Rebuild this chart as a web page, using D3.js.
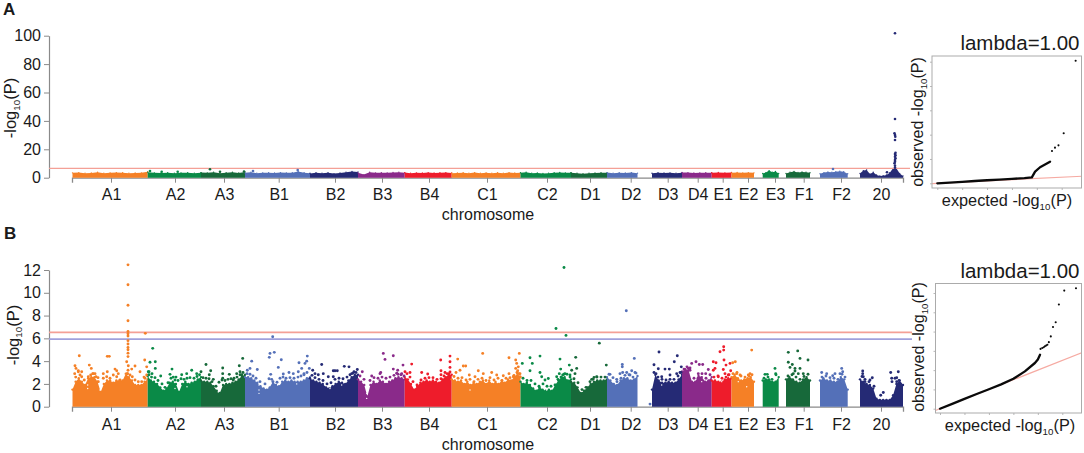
<!DOCTYPE html>
<html>
<head>
<meta charset="utf-8">
<script src="https://cdn.jsdelivr.net/npm/d3@7"></script>
<style>
  html, body { margin: 0; padding: 0; background: #fff; }
  text { font-family: "Liberation Sans", Arial, sans-serif; fill: #1a1a1a; }
</style>
</head>
<body>
<svg id="chart" width="1084" height="453"></svg>
<script>
// chromosome extents along the genome axis (arbitrary position units)
const chromNames = ['A1','A2','A3','B1','B2','B3','B4','C1','C2','D1','D2','D3','D4','E1','E2','E3','F1','F2','20'];
const chromStart = [0.5,75.7,129,173,238,286,332.7,379.7,448.5,499,535,580,610,639.7,659.5,690.7,714,748,788];
const chromEnd = [75.7,129,173,238,286,332.7,379.7,448.5,499,535,565.5,610,639.7,659.5,682,706.7,738,775.7,831];
const chromTicks = [39,103,152,206.7,263,310,357,415,475,518,558.7,595.7,625.7,650.7,676,703,731.7,769,809];
const chromColors = ['#f58026','#0a8a47','#17693a','#5470b8','#252a75','#8a2a8a','#ee1c2b',
  '#f58026','#0a8a47','#17693a','#5470b8','#252a75','#8a2a8a','#ee1c2b','#f58026','#0a8a47','#17693a','#5470b8','#252a75'];

// panel A: top of the dense band per chromosome, evenly spaced along it
const skylineA = [
  [3.4,3.6,3.2,3.3,3.8,3.1,3.4,3.6,3.5,3.2,3.3,3.4,4.2],
  [3.9,3.4,3.3,3.5,3.1,3.4,3.5,3.2,3.5],
  [3.6,3.4,3.9,3.2,3.5,3.8,3.3,4.0],
  [3.4,3.9,3.2,3.4,3.5,3.3,3.6,3.4,3.5,4.4,3.5,3.2],
  [3.0,3.5,3.1,3.5,2.9,3.3,3.9,4.4,4.0],
  [3.4,2.2,3.8,3.4,3.5,3.4,3.7,3.9,3.4],
  [3.6,3.2,3.4,3.3,3.6,3.3,3.5,3.6,3.3],
  [3.1,3.3,3.5,3.2,3.6,3.2,3.4,3.2,3.5,3.2,3.6,3.3,3.4],
  [3.5,3.8,3.2,3.3,3.0,3.2,3.5,3.7,3.4,3.5],
  [3.5,3.1,2.8,3.2,3.3,3.5,3.4],
  [3.6,3.2,3.5,3.3,3.6,3.2],
  [3.1,3.5,3.3,3.4,3.2,3.5],
  [3.7,3.6,3.3,3.4,3.5,3.4],
  [3.5,3.7,3.4,3.7],
  [3.4,3.7,3.4,3.6,3.4],
  [3.0,3.6,5.0,3.9,4.4,3.0],
  [3.0,3.9,4.4,3.7,4.0,3.9,3.5],
  [2.8,3.6,4.0,3.9,4.2,4.6,4.2,2.8],
  [3.0,5.0,5.4,2.6,3.8,1.9,1.2,1.4,1.9,3.5,6.6,6.6,3.0,1.2]
];
const dotsA = [
  [78,4.7],[89.7,4.2],[105.7,4.2],[138,5.9],[148,4.2],[172,4.4],[181,4.7],[225.7,5.4],[761,6.1],[815,3.8],
  [823,101.7],[823,41.3],[822.5,31.3],[823,30],[823.3,28.9],[823,26.5],[823.5,17.6],[823,16.7],[823.5,15.8],
  [823,14.8],[823.5,13.7],[823,12.5],[823,11.3],[822.5,10.2],[823,8.5],[823,7]
];

// panel B
const skylineB = [
  [1.5,2.2,2.5,2.2,1.9,2.5,2.6,2.6,2.2,1.3,2.0,2.3,2.3,2.1,2.3,2.3,2.3,2.9,2.6,2.3,1.9,1.9,1.9,2.2,2.4],
  [2.7,2.3,2.2,2.0,1.7,1.4,1.6,2.1,2.2,2.0,1.3,2.0,2.2,2.0,2.1,2.2,2.4,2.6],
  [2.3,2.2,2.2,2.1,1.8,1.4,1.2,1.9,2.0,2.0,2.1,2.2,2.4,2.7,2.8],
  [2.6,2.6,2.5,2.3,2.1,1.8,1.6,1.5,1.7,2.2,1.9,1.8,2.2,2.3,2.2,2.3,2.2,2.2,2.2,2.3,2.5,2.6],
  [2.5,2.3,2.2,2.1,2.0,1.7,1.6,1.8,2.0,2.2,2.1,2.0,2.3,2.6,2.8,2.8],
  [2.4,2.2,1.9,0.9,1.9,2.2,2.0,2.3,2.2,2.0,2.2,2.3,2.5,2.6,2.5,2.4],
  [2.6,2.4,2.0,1.5,1.8,2.1,2.2,2.3,2.2,2.3,2.2,2.1,2.4,2.6,2.8,2.8],
  [2.4,2.3,2.2,2.3,2.0,2.2,1.9,2.1,2.0,2.2,2.3,2.0,2.3,2.0,2.2,2.0,2.3,2.1,2.4,2.3,2.6,2.9,2.6],
  [2.2,2.0,2.1,1.9,1.6,1.4,1.7,1.5,1.4,1.5,1.4,1.9,2.3,2.6,2.6,2.3,2.4],
  [2.2,2.1,1.7,1.2,1.4,1.7,2.0,2.2,2.3,2.3,2.3,2.4],
  [2.6,2.3,2.0,1.9,2.3,2.5,2.5,2.3,2.4,2.7],
  [1.5,2.8,2.3,2.1,2.1,2.2,2.1,2.1,2.4,2.8],
  [3.1,3.3,3.2,2.2,2.2,2.7,2.6,2.2,2.3,2.6],
  [2.3,2.3,2.2,2.2,2.4,2.5,2.5],
  [2.6,2.8,2.5,2.3,2.4,2.5,2.6,2.2],
  [2.3,2.4,2.4,2.2,2.2,2.6],
  [2.4,2.6,2.4,2.2,2.1,2.4,2.6,2.3],
  [2.3,2.5,2.3,2.3,2.2,2.2,2.6,2.4,1.5],
  [2.4,2.2,2.0,1.9,1.6,0.7,0.6,0.6,0.6,0.6,1.0,2.0,2.3,1.9]
];
const dotsB = [
  // A1
  [7.3,4.47],[35.3,4.42],[37.3,4.42],[3,3.6],[4,3.36],[6.3,3.15],[9.7,3.07],[17.3,3.65],[19.3,3.36],[20.7,2.9],[23,2.9],[26,2.55],
  [31.3,2.9],[35.3,3.07],[43,3.3],[44.7,3.15],[46.3,2.9],[54.7,3.95],[56.3,3.6],[63,3.57],[59.7,3.3],[72.7,4.1],[74.7,3.5],[76.3,3.07],[72,2.6],[68,3.07],
  [56,12.45],[56,10.7],[56,8.9],[56,7.55],[56,6.6],[56,6.4],[56,6.2],[56,5.8],[56,5.5],[56,5.2],[56,5.0],[56,4.7],[56,4.4],[56,3.2],[55.5,2.9],[73.3,6.44],
  [2.7,2.9],[3.7,2.6],[6.3,3.07],[8,2.78],[9.7,2.63],[12.3,2.34],[16.3,2.63],[18.7,2.78],[21.3,2.9],[24,2.63],[26.3,2.2],[31.3,2.5],[34.7,2.63],[38,2.5],[41.3,2.78],[44.7,2.63],[48,2.34],[51.3,2.2],[55.3,2.9],[58,2.78],[60.3,2.63],[63,2.34],[66.3,2.2],[69.7,2.2],[73,2.5],[74.7,2.78],
  // A2
  [80.7,5.12],[78,3.9],[83.3,3.95],[83.3,3.36],[77,3.07],[80,2.9],[88.7,2.7],[100,3.3],[98,2.84],[101.3,2.6],[109.7,2.8],[104,2.6],[119.7,3.2],[114.7,2.9],[124.7,2.9],[129,3.07],
  [77,2.8],[79.5,2.6],[83,2.55],[86,2.3],[90,2.0],[93,1.7],[96,2.1],[99,2.5],[103,2.35],[106,2.3],[109,2.45],[112,2.4],[115,2.5],[118,2.55],[122,2.5],[125,2.65],[127.5,2.8],
  // A3
  [134,3.7],[150.7,3.4],[138.7,3.15],[137.3,2.8],[141.3,2.4],[150.7,2.9],[150.7,2.5],[157.3,2.84],[167.3,3.6],[170.7,4.24],[164.7,2.9],[168,3.07],[161.3,2.35],[169.7,2.8],
  [131,2.55],[134,2.5],[137,2.45],[140,2.2],[144,1.8],[147,2.15],[150,2.35],[153,2.3],[156,2.4],[159,2.45],[162,2.5],[165,2.6],[168,2.8],[171,3.0],
  // B1
  [179.7,4.0],[175.3,3.2],[185.3,3.27],[178,3.36],[198,4.68],[202.3,4.77],[197.3,4.33],[209.3,4.12],[206.3,3.45],[200.7,6.14],[198.7,2.84],[199.7,2.4],
  [211.3,2.87],[217,3.0],[221.3,2.9],[227,3.86],[233,3.8],[235.3,4.44],[234.7,4.0],[229.7,3.36],[226.3,3.07],[237.3,3.36],[232,2.8],
  [175,2.9],[178,2.85],[181,2.7],[184,2.5],[188,2.2],[193,2.0],[197,2.45],[201,2.2],[205,2.15],[208,2.5],[211,2.6],[214,2.5],[218,2.55],[222,2.5],[226,2.6],[229,2.7],[232,2.9],[235,3.0],
  // B2
  [249.7,3.7],[240.7,3.2],[243,2.9],[246.3,2.8],[251.3,2.9],[261.3,3.16],[263,3.16],[265.3,3.16],[272.3,3.54],[277,3.5],[285.3,3.27],[279.7,2.9],[282,3.07],[261.3,2.63],[256.3,2.63],
  [240,2.75],[243,2.55],[247,2.4],[251,2.3],[255,2.0],[259,2.1],[263,2.4],[267,2.5],[271,2.45],[275,2.6],[278,2.8],[281,2.95],[284,3.0],
  // B3
  [311.3,4.68],[313,4.15],[321.3,4.47],[331,3.65],[321.3,3.3],[325.7,3.2],[333,3.07],[308.7,3.0],[299.7,2.7],[324.7,2.93],[329.7,2.9],[290.3,3.07],[308,2.9],
  [288,2.7],[292,2.4],[298,2.3],[302,2.55],[306,2.5],[310,2.6],[314,2.5],[318,2.6],[322,2.75],[326,2.85],[329,2.8],[332,2.7],
  // B4
  [339.7,3.74],[338,3.0],[349.7,3.0],[355.7,2.87],[368.7,4.1],[378,4.44],[378,3.95],[378,3.45],[369,3.16],[369,2.8],[373,3.0],[377,2.9],
  [335,2.9],[338,2.6],[341,2.2],[345,1.9],[349,2.35],[353,2.5],[357,2.55],[361,2.55],[365,2.4],[369,2.45],[372,2.7],[375,2.9],[378,3.05],
  // C1
  [385.7,4.18],[410.7,4.68],[437,4.3],[447.3,4.68],[391.3,3.57],[393.7,3.57],[443.7,4.1],[444.7,3.8],[446.3,3.5],[443.7,3.36],[445.7,3.16],[448,2.9],[448,2.63],
  [388,3.2],[384,3.0],[406.3,3.16],[411.3,2.9],[419.7,3.0],[397.3,2.78],[403,2.63],[424.7,2.78],[431.3,2.72],[437,2.9],[441.3,2.63],
  [382,2.65],[386,2.5],[390,2.55],[394,2.35],[398,2.4],[402,2.2],[406,2.4],[410,2.5],[414,2.3],[418,2.55],[422,2.35],[426,2.5],[430,2.3],[434,2.5],[438,2.55],[442,2.75],[445,3.0],[447,2.9],
  // C2
  [458,4.3],[468,4.44],[460.3,3.8],[450.3,3.8],[458,3.16],[468,3.0],[469.7,2.63],[476.3,2.48],[473,2.34],[488,4.18],[497.3,3.65],[488.7,3.3],[487.3,2.9],[484.7,2.63],[493,2.9],[490.7,2.78],
  [492,12.22],[484,6.87],[494,6.26],
  [451,2.5],[455,2.3],[459,2.3],[463,2.0],[467,1.8],[471,2.0],[475,1.8],[479,1.8],[483,1.9],[486,2.4],[489,2.6],[492,2.85],[495,2.85],[498,2.6],
  // D1
  [503.7,4.33],[504.7,3.36],[534.3,3.65],[499.7,3.2],[503,2.9],[498,2.78],[524.7,2.63],[519.7,2.4],[522,2.57],[527.3,5.58],
  [502,2.45],[506,2.1],[510,1.5],[514,1.7],[518,2.2],[521,2.4],[525,2.6],[529,2.6],[533,2.6],
  // D2
  [554.3,8.42],[562.3,4.24],[550.3,3.7],[550.3,3.5],[559.7,3.16],[563,3.0],[554.7,3.0],[550.7,3.0],[548,2.9],[538,2.84],[558,2.78],[544.7,2.4],[578,0.23],
  [537,2.85],[541,2.55],[545,2.2],[549,2.5],[553,2.75],[557,2.8],[561,2.6],[564,2.95],
  // D3
  [587,4.8],[605.3,4.47],[602.3,3.95],[582,3.68],[586.3,3.33],[593,3.3],[597.3,3.3],[609.3,3.5],[584,2.9],[598,2.78],[604.7,2.9],[608,3.0],[589.7,2.63],
  [582,3.0],[586,2.6],[590,2.4],[594,2.35],[598,2.4],[602,2.4],[606,2.7],[609,3.0],
  // D4
  [619.7,3.8],[624,3.95],[627.3,3.7],[630.7,3.7],[636.3,3.27],[616.3,3.36],[618,3.2],[626.3,2.9],[633.7,2.9],
  [612,3.3],[615,3.5],[618,3.4],[622,2.5],[626,2.5],[630,2.9],[634,2.5],[638,2.8],
  // E1
  [651.7,5.26],[651.7,4.97],[648,4.82],[641.3,3.95],[644,3.86],[652,4.1],[658,3.8],[660.7,3.86],[654,3.65],[641.3,3.2],[643,3.36],[651.3,3.27],[658.7,3.16],[653,2.9],[656.3,2.78],[646.3,2.63],
  [642,2.6],[646,2.7],[650,2.5],[654,2.6],[657,2.8],
  // E2
  [679.7,4.97],[663.3,3.95],[678,2.9],[676.3,2.78],[668,2.78],[664.7,2.9],
  [661,2.9],[665,3.0],[669,2.7],[673,2.6],[677,2.7],[680,2.8],
  // E3
  [703,3.36],[703.7,2.9],[693,2.84],[695.3,2.84],
  [692,2.5],[696,2.6],[700,2.4],[704,2.8],
  // F1
  [716.3,4.77],[725.7,4.9],[728,4.24],[736,4.1],[720.3,3.7],[716.3,3.9],[718,3.45],[723,3.36],[728,3.36],[721.3,2.9],[723,3.13],[726.3,2.9],[731.3,2.9],
  [716,2.7],[720,2.8],[724,2.6],[728,2.4],[732,2.65],[736,2.85],
  // F2
  [749.7,3.0],[769.7,3.36],[754.7,2.9],[763,2.9],[768,2.9],[770.7,3.07],[760.7,2.72],
  [750,2.6],[754,2.7],[758,2.55],[762,2.5],[766,2.4],[770,2.85],[773,2.6],
  // 20
  [790.7,3.13],[790.7,2.9],[791.3,2.63],[793,2.2],[800.3,2.54],[798,2.34],[818.7,3.0],[826.3,3.07],[824.7,2.54],[819.7,2.5],[811.3,1.25],[808.7,1.0],[824.7,2.2],[828,2.05],
  [790,2.65],[793,2.4],[797,2.2],[802,1.8],[820,2.2],[823,2.5],[827,2.3],[829,1.9]
];
// small holes in the band of panel B
const holesB = [
  [15.7,1.6],[15.7,1.9],[28,1.46],[146.3,1.3],[103,1.6],[115,1.75],[187,1.17],[187,1.46],[187,1.9],[224.7,2.0],[258,1.6],[269.7,1.9],
  [294.7,1.17],[294.7,0.73],[398,1.46],[463,1.75],[474.7,1.46],[478,1.75],[509.7,1.46],[543.7,2.2],[589.7,1.9],[629.7,2.2],[649.7,2.2],[666.3,2.2],[674.7,1.75]
];

const thresholdsA = [6.6];
const thresholdsB = [6.53, 5.94];
const yTicksA = [0, 20, 40, 60, 80, 100];
const yTicksB = [0, 2, 4, 6, 8, 10, 12];

// qq plots: dense run as a polyline, sparse tail as dots
const qqLineExpA = [0, 0.5, 1, 1.5, 2, 2.5, 3, 3.5, 3.8, 3.93, 4.13, 4.53];
const qqLineObsA = [0, 0.6, 1.2, 1.9, 2.5, 3.1, 3.6, 4.3, 4.9, 9.6, 13.2, 17.8];
const qqDotExpA = [4.61, 4.73, 4.87, 5.08, 5.56];
const qqDotObsA = [26.6, 29.3, 31.2, 41.1, 100.8];
const qqLineExpB = [0, 0.5, 1, 1.5, 2, 2.5, 3, 3.47, 3.88, 4.0, 4.09];
const qqLineObsB = [0, 0.5, 1.02, 1.52, 2.02, 2.52, 3.1, 3.87, 4.74, 5.1, 5.6];
const qqDotExpB = [4.11, 4.18, 4.24, 4.29, 4.34, 4.39, 4.45, 4.53, 4.62, 4.73, 4.86, 5.08, 5.56];
const qqDotObsB = [6.2, 6.3, 6.38, 6.47, 6.55, 6.64, 6.9, 7.5, 8.48, 8.96, 10.8, 12.25, 12.5];

const axisGrey = '#8a8a8a';
const svg = d3.select('#chart');
const x = d3.scaleLinear().domain([0, 831]).range([72, 903]);

function subLabel(g, before, after, size) {
  // text with the "10" subscript
  const t = g.append('text').attr('font-size', size).attr('text-anchor', 'middle');
  t.append('tspan').text(before);
  t.append('tspan').attr('font-size', size * 0.6).attr('dy', size * 0.22).text('10');
  t.append('tspan').attr('dy', -size * 0.22).text(after);
  return t;
}

function drawManhattan(opts) {
  const g = svg.append('g');
  const y = d3.scaleLinear().domain(opts.domain).range(opts.range);
  const y0 = y(0);

  const area = d3.area().x(d => x(d[0])).y0(y0).y1(d => y(d[1]));

  opts.skyline.forEach((vals, i) => {
    const posScale = d3.scaleLinear().domain([0, vals.length - 1]).range([chromStart[i], chromEnd[i]]);
    const pts = vals.map((v, k) => [posScale(k), v]);
    g.append('path')
      .attr('d', area(pts))
      .attr('fill', chromColors[i]);
    // rough up the top edge a little, the real band is overlapping dots
    g.selectAll(null)
      .data(pts)
      .enter()
      .append('circle')
      .attr('cx', d => x(d[0]))
      .attr('cy', d => y(d[1]))
      .attr('r', opts.topRadius)
      .attr('fill', chromColors[i]);
  });

  g.selectAll(null)
    .data(opts.holes)
    .enter()
    .append('circle')
    .attr('cx', d => x(d[0]))
    .attr('cy', d => y(d[1]))
    .attr('r', 0.7)
    .attr('fill', '#fff');

  // axes first so the band sits over the baseline
  const xAxis = d3.axisBottom(x)
    .tickValues(chromTicks)
    .tickFormat((d, i) => chromNames[i])
    .tickSize(5)
    .tickPadding(opts.xPad);
  const xg = g.append('g').attr('transform', `translate(0,${y0})`).call(xAxis);
  xg.selectAll('text').attr('font-size', 16);
  xg.select('.domain').attr('stroke', axisGrey).attr('stroke-width', 1.3);
  xg.selectAll('line').attr('stroke', axisGrey);
  xg.lower();

  const yAxis = d3.axisLeft(y).tickValues(opts.yTicks).tickSize(5).tickSizeOuter(0).tickPadding(3);
  const yg = g.append('g').attr('transform', 'translate(49,0)').call(yAxis);
  yg.selectAll('text').attr('font-size', 16);
  yg.select('.domain').attr('stroke', axisGrey).attr('stroke-width', 1.2);
  yg.selectAll('line').attr('stroke', axisGrey);

  opts.thresholds.forEach((t, i) => {
    g.append('line')
      .attr('x1', 49).attr('x2', opts.lineEnd)
      .attr('y1', y(t)).attr('y2', y(t))
      .attr('stroke', i === 0 ? '#f4a096' : '#a0a0dc')
      .attr('stroke-width', opts.lineWidth);
  });

  g.selectAll('circle.dot')
    .data(opts.dots)
    .enter()
    .append('circle')
    .attr('class', 'dot')
    .attr('cx', d => x(d[0]))
    .attr('cy', d => y(d[1]))
    .attr('r', opts.dotRadius)
    .attr('fill', d => chromColors[Math.max(0, d3.bisectRight(chromStart, d[0]) - 1)]);

  const yl = subLabel(g, '-log', '(P)', 16.5);
  yl.attr('transform', `translate(${opts.yLabelX},${opts.yLabelY}) rotate(-90)`);

  g.append('text')
    .attr('x', 488).attr('y', opts.chromY)
    .attr('text-anchor', 'middle').attr('font-size', 16)
    .text('chromosome');
}

function drawQQ(opts) {
  const g = svg.append('g');
  const qx = d3.scaleLinear().domain([0, 5]).range(opts.xRange);
  const qy = d3.scaleLinear().domain(opts.yDomain).range(opts.yRange);
  const clipId = 'clip' + opts.id;

  g.append('clipPath').attr('id', clipId)
    .append('rect')
    .attr('x', opts.box[0]).attr('y', opts.box[1])
    .attr('width', opts.box[2] - opts.box[0]).attr('height', opts.box[3] - opts.box[1]);

  const xa = g.append('g').attr('transform', `translate(0,${opts.box[3]})`)
    .call(d3.axisBottom(qx).tickValues([0, 1, 2, 3, 4, 5]).tickSize(2).tickFormat(''));
  const ya = g.append('g').attr('transform', `translate(${opts.box[0]},0)`)
    .call(d3.axisLeft(qy).tickValues(opts.yTicks).tickSize(2).tickFormat(''));
  [xa, ya].forEach(a => {
    a.select('.domain').remove();
    a.selectAll('line').attr('stroke', '#b8b8b8');
  });

  // y = x reference
  g.append('line')
    .attr('clip-path', `url(#${clipId})`)
    .attr('x1', qx(-0.5)).attr('y1', qy(-0.5))
    .attr('x2', qx(7)).attr('y2', qy(7))
    .attr('stroke', '#f6aaa2').attr('stroke-width', 1.2);

  const line = d3.line().x(d => qx(d[0])).y(d => qy(d[1]));
  g.append('path')
    .attr('d', line(opts.lineExp.map((e, i) => [e, opts.lineObs[i]])))
    .attr('fill', 'none').attr('stroke', '#0a0a0a')
    .attr('stroke-width', 2.3).attr('stroke-linecap', 'round').attr('stroke-linejoin', 'round');

  g.selectAll('circle')
    .data(opts.dotExp.map((e, i) => [e, opts.dotObs[i]]))
    .enter()
    .append('circle')
    .attr('cx', d => qx(d[0]))
    .attr('cy', d => qy(d[1]))
    .attr('r', 1.05)
    .attr('fill', '#0a0a0a');

  g.append('rect')
    .attr('x', opts.box[0]).attr('y', opts.box[1])
    .attr('width', opts.box[2] - opts.box[0]).attr('height', opts.box[3] - opts.box[1])
    .attr('fill', 'none').attr('stroke', '#ababab').attr('stroke-width', 1);

  g.append('text')
    .attr('x', 1079.5).attr('y', opts.lambdaY)
    .attr('text-anchor', 'end').attr('font-size', 20.5)
    .text('lambda=1.00');

  const xl = subLabel(g, 'expected -log', '(P)', 16.3);
  xl.attr('x', opts.xLabelX).attr('y', opts.xLabelY);

  const yl = subLabel(g, 'observed -log', '(P)', 16.1);
  yl.attr('transform', `translate(${opts.yLabelX},${opts.yLabelY}) rotate(-90)`);
}

drawManhattan({
  skyline: skylineA, dots: dotsA, holes: [], domain: [0, 100], range: [177.7, 35.7], yTicks: yTicksA,
  thresholds: thresholdsA, lineEnd: 910, lineWidth: 1.2, topRadius: 0.7, dotRadius: 1.3, xPad: 5.5,
  yLabelX: 16, yLabelY: 108, chromY: 220
});
drawManhattan({
  skyline: skylineB, dots: dotsB, holes: holesB, domain: [0, 12], range: [406.7, 270], yTicks: yTicksB,
  thresholds: thresholdsB, lineEnd: 912, lineWidth: 1.8, topRadius: 1.2, dotRadius: 1.45, xPad: 7,
  yLabelX: 18.5, yLabelY: 335, chromY: 450
});

drawQQ({
  id: 'a', box: [932, 56, 1081.5, 188], xRange: [937.3, 1061.7], yDomain: [0, 100], yRange: [183.3, 61.7],
  yTicks: yTicksA, lineExp: qqLineExpA, lineObs: qqLineObsA, dotExp: qqDotExpA, dotObs: qqDotObsA,
  lambdaY: 50, xLabelX: 1007, xLabelY: 206, yLabelX: 923, yLabelY: 122
});
drawQQ({
  id: 'b', box: [935.5, 283.5, 1081.5, 413], xRange: [940, 1062.3], yDomain: [0, 12], yRange: [408.7, 293],
  yTicks: yTicksB, lineExp: qqLineExpB, lineObs: qqLineObsB, dotExp: qqDotExpB, dotObs: qqDotObsB,
  lambdaY: 278, xLabelX: 1010, xLabelY: 431, yLabelX: 924, yLabelY: 347
});

svg.append('text').attr('x', 3).attr('y', 14.5).attr('font-size', 17).attr('font-weight', 'bold').text('A');
svg.append('text').attr('x', 4).attr('y', 239).attr('font-size', 17).attr('font-weight', 'bold').text('B');
</script>
</body>
</html>
